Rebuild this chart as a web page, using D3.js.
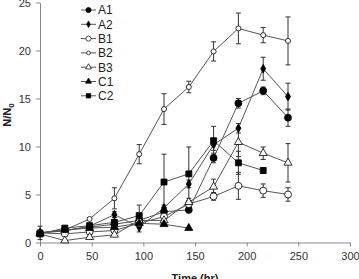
<!DOCTYPE html>
<html><head><meta charset="utf-8">
<script src="https://cdn.jsdelivr.net/npm/d3@7/dist/d3.min.js"></script>
<style>body{margin:0;background:#fff}svg{display:block}</style>
</head><body>
<svg id="c" width="359" height="279"></svg>
<script>
const times = [0,24,48,72,96,120,144,168,192,216,240];
const xTicks = [0,50,100,150,200,250,300];
const yTicks = [0,5,10,15,20,25];
const seriesNames = ["A1","A2","B1","B2","B3","C1","C2"];
const A1 = [1.0,1.3,1.6,1.9,2.3,3.2,3.4,8.8,14.5,15.8,13.0];
const A1err = [0.7,0.2,0.3,0.3,0.5,0.3,0.3,0.5,0.5,0.4,0.9];
const A2 = [1.0,1.2,1.7,2.9,1.6,3.6,6.1,10.2,11.9,18.1,15.2];
const A2err = [0,0.2,0.2,0.3,0.5,0.3,0.4,0.6,0.5,1.2,1.4];
const B1 = [1.0,0.9,1.1,1.25,2.0,2.7,4.0,4.8,5.9,5.4,5.0];
const B1err = [0,0.1,0.1,0.2,0.3,0.3,0.3,0.4,1.4,0.7,0.7];
const B2 = [1.0,1.3,2.45,4.6,9.2,13.9,16.2,19.9,22.3,21.6,21.0];
const B2err = [0.3,0.2,0.2,1.1,1.0,1.6,0.6,1.0,1.6,0.8,2.5];
const B3 = [0.9,0.2,0.55,0.8,2.3,2.3,4.2,5.8,10.45,9.3,8.3];
const B3err = [0,0.1,0.1,0.1,0.3,0.3,0.4,0.8,1.5,0.65,2.0];
const C1 = [1.0,1.3,1.5,1.6,2.0,1.9,1.5];
const C1err = [0,0.1,0.1,0.1,0.2,0.2,0.1];
const C2 = [0.9,1.5,1.75,2.1,2.8,6.3,7.15,10.6,8.3,7.5];
const C2err = [0,0.2,0.2,0.3,1.1,2.9,2.8,1.5,1.2,0.3];

const values = {A1,A2,B1,B2,B3,C1,C2};
const errs = {A1:A1err,A2:A2err,B1:B1err,B2:B2err,B3:B3err,C1:C1err,C2:C2err};
const markers = {
  A1:{type:d3.symbolCircle,size:38,fill:"#000"},
  A2:{type:d3.symbolDiamond,size:22,fill:"#000"},
  B1:{type:d3.symbolCircle,size:38,fill:"#fff"},
  B2:{type:d3.symbolCircle,size:20,fill:"#fff"},
  B3:{type:d3.symbolTriangle,size:28,fill:"#fff"},
  C1:{type:d3.symbolTriangle,size:28,fill:"#000"},
  C2:{type:d3.symbolSquare,size:36,fill:"#000"}
};

const svg = d3.select("#c");
const x = d3.scaleLinear().domain([0,300]).range([40,350]);
const y = d3.scaleLinear().domain([0,25]).range([242.5,2.5]);
const font = "Arial, 'Liberation Sans', sans-serif";

// axes
const xAxis = svg.append("g").attr("transform","translate(0,"+y(0)+")")
  .call(d3.axisBottom(x).tickValues(xTicks).tickSize(4).tickPadding(6).tickSizeOuter(0));
const yAxis = svg.append("g").attr("transform","translate("+x(0)+",0)")
  .call(d3.axisLeft(y).tickValues(yTicks).tickSize(4).tickPadding(5).tickSizeOuter(0));
[xAxis,yAxis].forEach(g=>{
  g.select(".domain").attr("stroke","#888");
  g.selectAll(".tick line").attr("stroke","#888");
  g.selectAll(".tick text").attr("fill","#333").style("font-family",font).style("font-size","11px");
});

svg.append("text").attr("x",195).attr("y",281.5).attr("text-anchor","middle")
  .style("font-family",font).style("font-size","11px").style("font-weight","bold").attr("fill","#222")
  .text("Time (hr)");
const yl = svg.append("text").attr("transform","translate(11,115) rotate(-90)").attr("text-anchor","middle")
  .style("font-family",font).style("font-size","11px").style("font-weight","bold").attr("fill","#222");
yl.append("tspan").text("N/N");
yl.append("tspan").attr("dy",3).style("font-size","8px").text("0");

const line = d3.line().x(d=>x(d[0])).y(d=>y(d[1]));
const pts = n => values[n].map((v,i)=>[times[i],v,errs[n][i]]);

seriesNames.forEach(n=>{
  svg.append("path").datum(pts(n)).attr("d",line)
    .attr("fill","none").attr("stroke","#555").attr("stroke-width",1);
});
seriesNames.forEach(n=>{
  const g = svg.append("g").attr("stroke","#333").attr("stroke-width",1);
  pts(n).filter(d=>d[2]>0.25).forEach(d=>{
    const cx = x(d[0]);
    g.append("line").attr("x1",cx).attr("x2",cx).attr("y1",y(d[1]-d[2])).attr("y2",y(d[1]+d[2]));
    g.append("line").attr("x1",cx-2.5).attr("x2",cx+2.5).attr("y1",y(d[1]-d[2])).attr("y2",y(d[1]-d[2]));
    g.append("line").attr("x1",cx-2.5).attr("x2",cx+2.5).attr("y1",y(d[1]+d[2])).attr("y2",y(d[1]+d[2]));
  });
});
seriesNames.forEach(n=>{
  const m = markers[n];
  const sym = d3.symbol().type(m.type).size(m.size);
  svg.append("g").selectAll("path").data(pts(n)).join("path")
    .attr("transform",d=>"translate("+x(d[0])+","+y(d[1])+")")
    .attr("d",sym).attr("fill",m.fill).attr("stroke","#000").attr("stroke-width",0.8);
});

// legend
const lg = svg.append("g");
seriesNames.forEach((n,i)=>{
  const yy = 10 + i*14.3;
  lg.append("line").attr("x1",81).attr("x2",96).attr("y1",yy).attr("y2",yy).attr("stroke","#555");
  const m = markers[n];
  lg.append("path").attr("transform","translate(88.5,"+yy+")")
    .attr("d",d3.symbol().type(m.type).size(m.size*0.55)()).attr("fill",m.fill).attr("stroke","#000").attr("stroke-width",0.7);
  lg.append("text").attr("x",98).attr("y",yy+4.3).style("font-family",font).style("font-size","12px")
    .attr("fill","#222").text(n);
});
</script>
</body></html>
